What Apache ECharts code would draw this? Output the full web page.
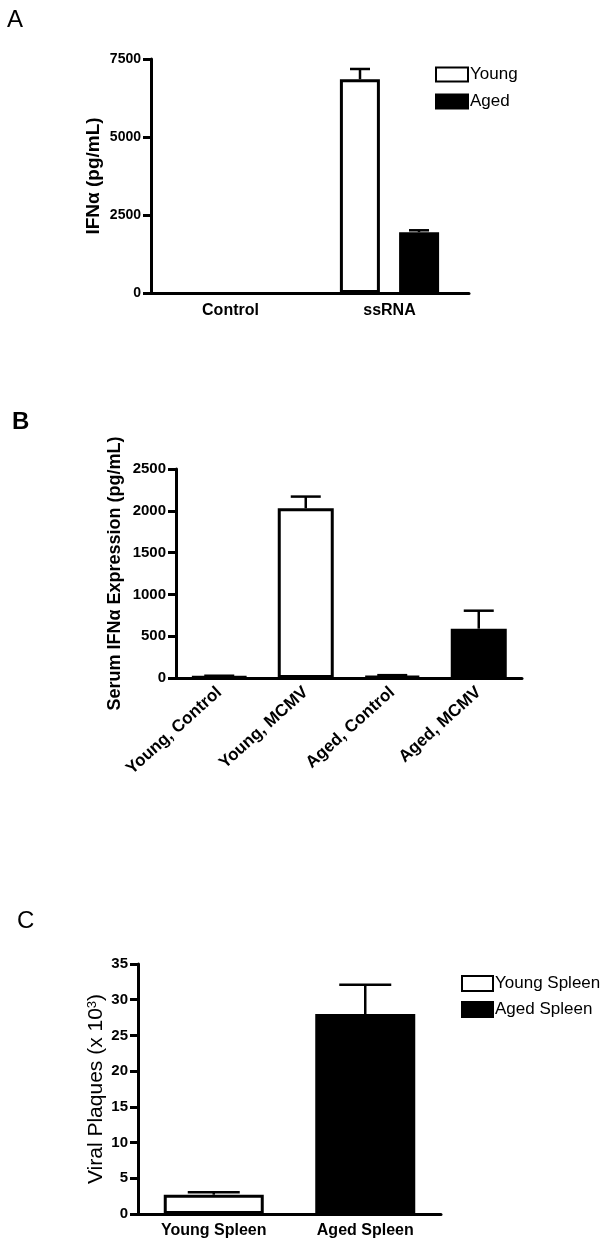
<!DOCTYPE html>
<html>
<head>
<meta charset="utf-8">
<script src="https://cdn.jsdelivr.net/npm/echarts@6/dist/echarts.min.js"></script>
<style>
  html, body { margin: 0; padding: 0; background: #fff; }
  #chart { width: 606px; height: 1248px; }
</style>
</head>
<body>
<div id="chart"></div>
<script>
  // ---- panel A : IFNa, Young vs Aged
  var catsA = ['Control', 'ssRNA'];
  var youngA = [0, 6850];
  var youngErrA = [0, 330];
  var agedA = [0, 1950];
  var agedErrA = [0, 60];

  // ---- panel B : serum IFNa
  var catsB = ['Young, Control', 'Young, MCMV', 'Aged, Control', 'Aged, MCMV'];
  var valuesB = [15, 2030, 22, 590];
  var errB = [12, 140, 12, 215];
  var groupB = ['Young', 'Young', 'Aged', 'Aged'];

  // ---- panel C : viral plaques
  var catsC = ['Young Spleen', 'Aged Spleen'];
  var valuesC = [2.7, 28];
  var errC = [0.35, 4.1];

  var FONT = "'Liberation Sans', Arial, sans-serif";

  var whiteBar = { color: '#fff', borderColor: '#000', borderWidth: 3 };
  var blackBar = { color: '#000', borderColor: '#000', borderWidth: 3 };

  // error bar (upper half only) drawn through the axes
  function errSeries(xi, rows, offset, half) {
    return {
      type: 'custom',
      xAxisIndex: xi,
      yAxisIndex: xi,
      z: 3,
      silent: true,
      data: rows,
      renderItem: function (params, api) {
        var e = api.value(2);
        if (!e) return null;
        var p0 = api.coord([api.value(0), api.value(1)]);
        var p1 = api.coord([api.value(0), api.value(1) + e]);
        var x = p0[0] + offset;
        var st = { stroke: '#000', lineWidth: 2.5 };
        return {
          type: 'group',
          children: [
            { type: 'line', shape: { x1: x, y1: p0[1], x2: x, y2: p1[1] }, style: st },
            { type: 'line', shape: { x1: x - half, y1: p1[1], x2: x + half, y2: p1[1] }, style: st }
          ]
        };
      }
    };
  }

  function rowsOf(vals, errs) {
    return vals.map(function (v, i) { return [i, v, errs[i]]; });
  }

  // zero means no bar drawn
  function barData(vals) {
    return vals.map(function (v) { return v === 0 ? '-' : v; });
  }

  function xAx(gi, cats, label) {
    return {
      type: 'category',
      gridIndex: gi,
      data: cats,
      axisLine: { lineStyle: { color: '#000', width: 3 } },
      axisTick: { alignWithLabel: true, length: 8, lineStyle: { color: '#000', width: 3 } },
      axisLabel: label
    };
  }

  function yAx(gi, max, interval, name, nameGap, nameStyle, labelSize) {
    return {
      type: 'value',
      gridIndex: gi,
      min: 0,
      max: max,
      interval: interval,
      name: name,
      nameLocation: 'middle',
      nameGap: nameGap,
      nameMoveOverlap: false,
      nameTextStyle: nameStyle,
      splitLine: { show: false },
      axisLine: { show: true, lineStyle: { color: '#000', width: 3 } },
      axisTick: { show: true, length: 8, lineStyle: { color: '#000', width: 3 } },
      axisLabel: {
        color: '#000', fontWeight: 'bold', fontSize: labelSize, fontFamily: FONT, margin: 10,
        formatter: function (v) { return String(v); }
      }
    };
  }

  var myChart = echarts.init(document.getElementById('chart'));

  var option = {
    backgroundColor: '#fff',
    animation: false,
    title: [
      { text: 'A', left: 7, top: 8, padding: 0, textStyle: { fontSize: 24, fontWeight: 'normal', color: '#000', fontFamily: FONT } },
      { text: 'B', left: 12, top: 410, padding: 0, textStyle: { fontSize: 24, fontWeight: 'bold', color: '#000', fontFamily: FONT } },
      { text: 'C', left: 17, top: 909, padding: 0, textStyle: { fontSize: 24, fontWeight: 'normal', color: '#000', fontFamily: FONT } }
    ],
    legend: [
      {
        data: ['Young', 'Aged'],
        orient: 'vertical',
        left: 435,
        top: 66,
        itemWidth: 32,
        itemHeight: 14,
        itemGap: 10,
        padding: 0,
        textStyle: { fontSize: 17, color: '#000', fontFamily: FONT, padding: [0, 0, 0, -3] },
        icon: 'rect',
        selectedMode: false
      },
      {
        data: ['Young Spleen', 'Aged Spleen'],
        orient: 'vertical',
        left: 461,
        top: 975,
        itemWidth: 31,
        itemHeight: 15,
        itemGap: 9,
        padding: 0,
        textStyle: { fontSize: 17, color: '#000', fontFamily: FONT, padding: [0, 0, 0, -3] },
        icon: 'rect',
        selectedMode: false
      }
    ],
    grid: [
      { left: 151, top: 59, width: 318, height: 234 },
      { left: 176, top: 469, width: 346, height: 209 },
      { left: 138, top: 964, width: 303, height: 250 }
    ],
    xAxis: [
      xAx(0, catsA, { color: '#000', fontWeight: 'bold', fontSize: 16, fontFamily: FONT, margin: 10 }),
      xAx(1, catsB, { color: '#000', fontWeight: 'bold', fontSize: 17, fontFamily: FONT, margin: 12, rotate: 42, interval: 0 }),
      xAx(2, catsC, { color: '#000', fontWeight: 'bold', fontSize: 16, fontFamily: FONT, margin: 9, interval: 0 })
    ],
    yAxis: [
      yAx(0, 7500, 2500, 'IFN\u03b1 (pg/mL)', 48,
        { color: '#000', fontWeight: 'bold', fontSize: 19, fontFamily: FONT }, 14),
      yAx(1, 2500, 500, 'Serum IFN\u03b1 Expression (pg/mL)', 52,
        { color: '#000', fontWeight: 'bold', fontSize: 18, fontFamily: FONT }, 15),
      yAx(2, 35, 5, 'Viral Plaques (x 10{sup|3})', 31,
        { color: '#000', fontSize: 21, fontFamily: FONT,
          rich: { sup: { fontSize: 13, verticalAlign: 'top', color: '#000', fontFamily: FONT, padding: [0, 0, 8, 0] } } }, 15)
    ],
    series: [
      // A
      { name: 'Young', type: 'bar', xAxisIndex: 0, yAxisIndex: 0, data: barData(youngA),
        barWidth: 40, barGap: '48%', itemStyle: whiteBar },
      { name: 'Aged', type: 'bar', xAxisIndex: 0, yAxisIndex: 0, data: barData(agedA),
        barWidth: 40, barGap: '48%', itemStyle: blackBar },
      errSeries(0, rowsOf(youngA, youngErrA), -29.5, 10),
      errSeries(0, rowsOf(agedA, agedErrA), 29.5, 10),
      // B
      { name: 'Serum', type: 'bar', xAxisIndex: 1, yAxisIndex: 1, barWidth: 56,
        data: valuesB.map(function (v, i) {
          return { value: v, itemStyle: groupB[i] === 'Young' ? whiteBar : blackBar };
        }) },
      errSeries(1, rowsOf(valuesB, errB), 0, 15),
      // C
      { name: 'Young Spleen', type: 'bar', xAxisIndex: 2, yAxisIndex: 2, barWidth: 100, barGap: '-100%',
        data: [valuesC[0], '-'], itemStyle: whiteBar },
      { name: 'Aged Spleen', type: 'bar', xAxisIndex: 2, yAxisIndex: 2, barWidth: 100, barGap: '-100%',
        data: ['-', valuesC[1]], itemStyle: blackBar },
      errSeries(2, rowsOf(valuesC, errC), 0, 26)
    ]
  };

  myChart.setOption(option);
</script>
</body>
</html>
